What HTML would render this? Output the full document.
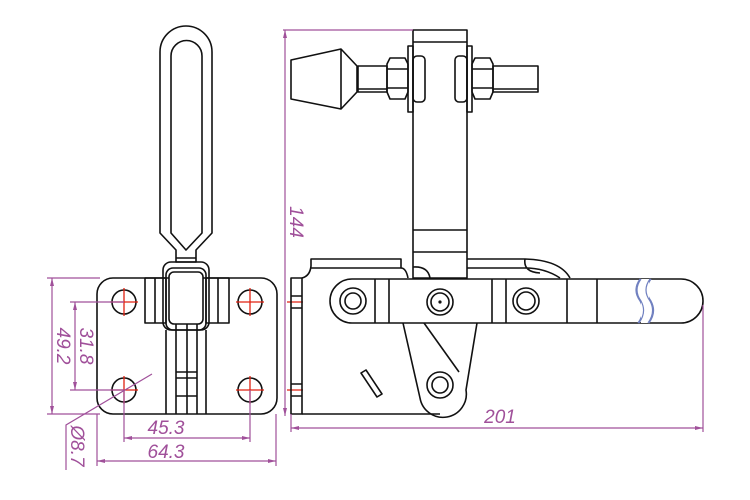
<!DOCTYPE html>
<html><head><meta charset="utf-8"><style>
html,body{margin:0;padding:0;background:#fff}
svg{display:block}
text{font-family:"Liberation Sans",sans-serif;font-style:italic;fill:#a0509a;font-size:19px}
</style></head><body>
<svg width="750" height="500" viewBox="0 0 750 500" xmlns="http://www.w3.org/2000/svg">
<g fill="none" stroke="#111" stroke-width="1.6" stroke-linejoin="round">
<!-- LEFT VIEW handle -->
<path d="M160,233 V52 A26,26 0 0 1 212,52 V233 L196,250 V262 H176 V250 Z"/>
<path d="M171,233 V56 A15.5,15.5 0 0 1 202,56 V233 L186,250 L171,233 Z"/>
<path d="M176,258 H196"/>
<rect x="163" y="262" width="46" height="68" rx="8"/>
<rect x="166" y="268" width="40" height="62" rx="7"/>
<!-- plate -->
<rect x="97" y="278" width="180" height="136" rx="16"/>
<rect x="145" y="278" width="21" height="45"/><line x1="155" y1="278" x2="155" y2="323"/>
<rect x="206" y="278" width="23" height="45"/><line x1="218" y1="278" x2="218" y2="323"/>
<rect x="169" y="272" width="34" height="52" rx="5" fill="#fff"/>
<path d="M166,330 V414 M206,330 V414 M176,324 V414 M187,324 V414 M197,324 V414 M176,372 H197 M176,378 H197 M176,396 H197"/>
<circle cx="124" cy="302" r="12"/><circle cx="250" cy="302" r="12"/>
<circle cx="124" cy="390" r="12"/><circle cx="250" cy="390" r="12"/>
</g>
<g stroke="#e02010" stroke-width="1.3">
<path d="M110,302 H138 M124,288 V316 M236,302 H264 M250,288 V316 M110,390 H138 M124,376 V404 M236,390 H264 M250,376 V404"/>
<path d="M287,302 H303 M287,390 H303"/>
</g>
<!-- RIGHT VIEW -->
<g fill="none" stroke="#111" stroke-width="1.6" stroke-linejoin="round">
<rect x="413" y="30" width="54" height="248"/>
<path d="M413,42 H467 M413,230 H467 M413,252 H467"/>
<rect x="408" y="46" width="5" height="66"/><rect x="467" y="46" width="5" height="66"/>
<rect x="413" y="56" width="12" height="46" rx="4"/><rect x="455" y="56" width="12" height="46" rx="4"/>
<path d="M390,58 H405 L408,64 V92 L405,99 H390 L387,92 V64 Z M387,69 H408 M387,88 H408"/>
<path d="M475,58 H490 L493,64 V92 L490,99 H475 L472,92 V64 Z M472,69 H493 M472,88 H493"/>
<rect x="493" y="66" width="45" height="26"/><line x1="493" y1="89" x2="538" y2="89"/>
<rect x="358" y="66" width="29" height="26"/><line x1="358" y1="89" x2="387" y2="89"/>
<path d="M291,60 L341,49 L357,66 V92 L341,109 L291,99 Z M341,49 V109"/>
<!-- base plate -->
<rect x="291" y="278" width="11" height="136"/>
<path d="M291,296 H302 M291,308 H302 M291,384 H302 M291,396 H302"/>
<path d="M302,278 Q310,276 311,266 V259 H401 V268 H311"/>
<path d="M401,268 Q406,268 408,278 M413,267 Q428,266 430,278"/>
<path d="M467,259 H525 Q560,260 570,278 M467,268 H525 Q545,268 560,278 M525,259 Q523,272 540,273"/>
<path d="M302,414 H440"/>
<!-- arm -->
<path d="M352,279 H681 A22,22 0 0 1 681,323 H352 A22,22 0 0 1 352,279 Z" fill="#fff"/>
<path d="M375,279 V323 M389,279 V323 M492,279 V323 M506,279 V323 M567,279 V323 M597,279 V323"/>
<circle cx="353" cy="301" r="13"/><circle cx="353" cy="301" r="8"/>
<circle cx="440" cy="302" r="13"/><circle cx="440" cy="302" r="9"/>
<circle cx="526" cy="301" r="13"/><circle cx="526" cy="301" r="9"/>
<circle cx="440" cy="302" r="0.8" fill="#111"/>
<!-- link -->
<path d="M403,323 L420,398 A20,20 0 0 0 466,390 L477,323"/>
<path d="M424,323 L459,372"/>
<circle cx="440" cy="385" r="13"/><circle cx="440" cy="385" r="8"/>
<path d="M361,373 L366,370 L382,394 L377,397 Z"/>
</g>
<path d="M640,279 Q632,290 640,301 Q646,312 638,323 M651,279 Q643,290 651,301 Q657,312 649,323" fill="none" stroke="#7080c0" stroke-width="1.2"/>
<rect x="641" y="279" width="8" height="44" fill="#fff"/>
<path d="M641,279 Q633,290 641,301 Q647,312 639,323 M650,279 Q642,290 650,301 Q656,312 648,323" fill="none" stroke="#7080c0" stroke-width="1.2"/>
<!-- DIMENSIONS -->
<g stroke="#a0509a" stroke-width="1.2" fill="none">
<path d="M47,278 H100 M47,414 H100 M52,278 V414"/>
<path d="M70,302 H124 M70,390 H124 M75,302 V390"/>
<path d="M124,390 V442 M250,390 V442 M124,438 H250"/>
<path d="M97,414 V466 M276,414 V466 M97,461 H276"/>
<path d="M152,374 L66,425 V470"/>
<path d="M283,30 H413 M285,30 V416"/>
<path d="M291,414 V432 M703,305 V432 M291,428 H703"/>
</g>
<g fill="#a0509a">
<path d="M52,278 l-2,8 h4 Z M52,414 l-2,-8 h4 Z M75,302 l-2,8 h4 Z M75,390 l-2,-8 h4 Z M124,438 l8,-2 v4 Z M250,438 l-8,-2 v4 Z M97,461 l8,-2 v4 Z M276,461 l-8,-2 v4 Z M285,30 l-2,8 h4 Z M285,416 l-2,-8 h4 Z M291,428 l8,-2 v4 Z M703,428 l-8,-2 v4 Z"/>
</g>
<text x="166" y="434" text-anchor="middle">45.3</text>
<text x="166" y="458" text-anchor="middle">64.3</text>
<text x="500" y="423" text-anchor="middle">201</text>
<text transform="translate(57,346) rotate(90)" text-anchor="middle">49.2</text>
<text transform="translate(80,346) rotate(90)" text-anchor="middle">31.8</text>
<text transform="translate(71,446) rotate(90)" text-anchor="middle">Ø8.7</text>
<text transform="translate(290,222) rotate(90)" text-anchor="middle">144</text>
</svg>
</body></html>
